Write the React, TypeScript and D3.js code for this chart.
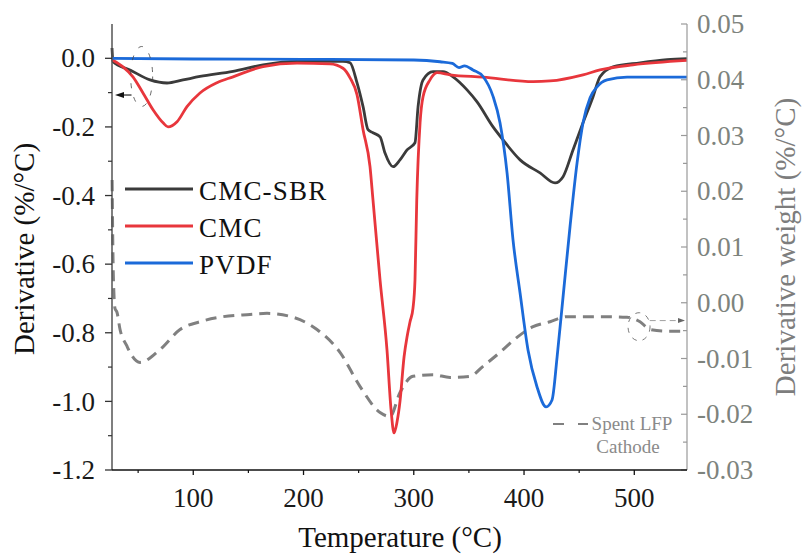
import * as d3 from "d3";

// Temperature (°C) / derivative pairs
const cmcSbr: [number, number][] = [
  [26.3, 0.03], [27.2, -0.01], [42.6, -0.034], [60.8, -0.063], [76.2, -0.072], [90.7, -0.063],
  [106.1, -0.053], [136.1, -0.038], [163.3, -0.019], [194.1, -0.009], [235.8, -0.009],
  [242.2, -0.013], [248.5, -0.071], [254.0, -0.141], [258.5, -0.208], [263.0, -0.217],
  [269.4, -0.229], [273.9, -0.276], [281.2, -0.316], [287.5, -0.296], [293.9, -0.267],
  [301.1, -0.246], [303.9, -0.141], [308.4, -0.063], [317.5, -0.039], [326.5, -0.039],
  [335.6, -0.054], [348.3, -0.092], [357.4, -0.127], [371.9, -0.2], [381.0, -0.238],
  [396.4, -0.296], [414.5, -0.334], [428.1, -0.363], [435.4, -0.345], [444.4, -0.267],
  [453.5, -0.188], [462.6, -0.112], [468.9, -0.054], [480.7, -0.025], [505.2, -0.013],
  [529.7, -0.004], [547.8, -0.001],
];

const cmc: [number, number][] = [
  [26.3, -0.004], [36.3, -0.025], [45.3, -0.054], [54.4, -0.101], [63.5, -0.15], [72.6, -0.188],
  [77.1, -0.2], [85.3, -0.185], [94.3, -0.141], [106.1, -0.101], [121.5, -0.071], [136.1, -0.054],
  [163.3, -0.024], [194.1, -0.014], [224.0, -0.016], [235.8, -0.029], [242.2, -0.057],
  [248.5, -0.106], [254.0, -0.208], [260.3, -0.316], [263.0, -0.413], [269.4, -0.646],
  [275.7, -0.85], [279.4, -1.025], [282.1, -1.092], [284.8, -1.06], [287.5, -1.0],
  [291.2, -0.87], [294.0, -0.81], [296.6, -0.768], [299.3, -0.728], [301.1, -0.646],
  [302.7, -0.413], [305.7, -0.188], [308.4, -0.112], [314.7, -0.063], [321.1, -0.042],
  [332.9, -0.048], [362.8, -0.055], [408.2, -0.068], [423.6, -0.066], [453.5, -0.048],
  [468.9, -0.034], [498.8, -0.019], [547.8, -0.006],
];

const pvdf: [number, number][] = [
  [26.3, 0.0], [100, -0.002], [200, -0.003], [300, -0.005], [323.8, -0.01], [335, -0.015],
  [341, -0.027], [346, -0.022], [353.7, -0.034], [362.8, -0.053], [371.9, -0.111],
  [378.2, -0.188], [384.6, -0.334], [390.0, -0.529], [396.4, -0.684], [403.6, -0.85],
  [411.8, -0.958], [420.0, -1.016], [425.4, -0.996], [430.0, -0.87], [435.4, -0.695],
  [441.7, -0.491], [448.1, -0.305], [453.5, -0.188], [459.9, -0.115], [466.2, -0.083],
  [475.3, -0.063], [493.4, -0.055], [547.8, -0.055],
];

// right axis (derivative weight)
const spentLfp: [number, number][] = [
  [26.4, 0.022], [27.5, 0.005], [29, -0.001], [30.8, -0.0017], [33.6, -0.0048], [39.9, -0.0078],
  [42.6, -0.0089], [51.7, -0.0107], [69.8, -0.0084], [88.0, -0.0048], [106.1, -0.0034],
  [127.0, -0.0025], [151.5, -0.0021], [166.9, -0.0019], [190.5, -0.0026], [212.2, -0.0048],
  [233.1, -0.0089], [251.2, -0.015], [269.4, -0.0197], [278.5, -0.0204], [287.5, -0.0161],
  [299.3, -0.0132], [317.5, -0.0129], [332.9, -0.0134], [351.0, -0.0132], [362.8, -0.0114],
  [378.2, -0.0089], [393.6, -0.0062], [408.2, -0.0043], [423.6, -0.0034], [439.0, -0.0025],
  [457.1, -0.0025], [475.3, -0.0025], [493.4, -0.0026], [505.2, -0.0034], [514.3, -0.0048],
  [529.7, -0.0051], [547.8, -0.0051],
];

const xTicks = [100, 200, 300, 400, 500];
const xMinor = [50, 150, 250, 350, 450];
const leftTicks = [0, -0.2, -0.4, -0.6, -0.8, -1.0, -1.2];
const leftMinor = [-0.1, -0.3, -0.5, -0.7, -0.9, -1.1];
const rightTicks = [0.05, 0.04, 0.03, 0.02, 0.01, 0.0, -0.01, -0.02, -0.03];
const rightMinor = [0.045, 0.035, 0.025, 0.015, 0.005, -0.005, -0.015, -0.025];

const series = [
  { name: "CMC-SBR", data: cmcSbr, color: "#3b3b3b" },
  { name: "CMC", data: cmc, color: "#e8363c" },
  { name: "PVDF", data: pvdf, color: "#1b6ad9" },
];

const FONT = "Liberation Serif";

export default function App() {
  const x = d3.scaleLinear().domain([26.3, 547.8]).range([112, 687]);
  const yL = d3.scaleLinear().domain([-1.2, 0.1]).range([470, 24]);
  const yR = d3.scaleLinear().domain([-0.03, 0.05]).range([470, 24]);

  const lineL = d3
    .line<[number, number]>()
    .x((d) => x(d[0]))
    .y((d) => yL(d[1]))
    .curve(d3.curveMonotoneX);
  const lineR = d3
    .line<[number, number]>()
    .x((d) => x(d[0]))
    .y((d) => yR(d[1]))
    .curve(d3.curveMonotoneX);

  const x0 = x.range()[0];
  const x1 = x.range()[1];
  const yb = yL.range()[0];
  const yt = yL.range()[1];
  const fmt1 = d3.format(".1f");
  const fmt2 = d3.format(".2f");

  return (
    <div style={{ position: "fixed", left: 0, top: 0 }}>
      <svg width={803} height={556} style={{ display: "block" }}>
        <rect width={803} height={556} fill="#fff" />

        {/* spent LFP dashed curve */}
        <path d={lineR(spentLfp) ?? ""} fill="none" stroke="#808080" strokeWidth={3} strokeDasharray="11 7" />

        {series.map((s) => (
          <path key={s.name} d={lineL(s.data) ?? ""} fill="none" stroke={s.color} strokeWidth={2.8} strokeLinejoin="round" />
        ))}

        {/* little annotation marks */}
        <ellipse cx={x(53.2)} cy={yL(-0.053)} rx={11} ry={30} fill="none" stroke="#444" strokeWidth={0.8} strokeDasharray="5 9" />
        <line x1={x(44)} x2={x(33)} y1={yL(-0.107)} y2={yL(-0.107)} stroke="#222" strokeWidth={1.2} />
        <path d={`M${x(29)},${yL(-0.107)} l9,-3 l0,6 z`} fill="#111" />
        <ellipse cx={x(504.3)} cy={yR(-0.0043)} rx={11} ry={14} fill="none" stroke="#555" strokeWidth={0.8} strokeDasharray="5 6" />
        <line x1={x(514)} x2={x(545)} y1={yR(-0.0032)} y2={yR(-0.0032)} stroke="#888" strokeWidth={0.8} strokeDasharray="6 4" />
        <path d={`M${x(546)},${yR(-0.0032)} l-7,-2.5 l0,5 z`} fill="#666" />

        <g fontFamily={FONT}>
          {/* left axis */}
          <line x1={x0} x2={x0} y1={yt} y2={yb} stroke="#555" strokeWidth={1.5} />
          {leftTicks.map((t) => (
            <g key={t}>
              <line x1={x0 - 7} x2={x0} y1={yL(t)} y2={yL(t)} stroke="#333" strokeWidth={1.3} />
              <text x={95} y={yL(t)} dy="0.34em" textAnchor="end" fontSize={27} fontFamily={FONT} fill="#1a1a1a">
                {fmt1(t).replace("−", "-")}
              </text>
            </g>
          ))}
          {leftMinor.map((t) => (
            <line key={t} x1={x0 - 4} x2={x0} y1={yL(t)} y2={yL(t)} stroke="#333" strokeWidth={1.2} />
          ))}

          {/* right axis */}
          <line x1={x1} x2={x1} y1={yt} y2={yb} stroke="#999" strokeWidth={1.2} />
          {rightTicks.map((t) => (
            <g key={t}>
              <line x1={x1 - 6} x2={x1} y1={yR(t)} y2={yR(t)} stroke="#999" strokeWidth={1.2} />
              <text x={697} y={yR(t)} dy="0.34em" textAnchor="start" fontSize={27} fontFamily={FONT} fill="#7d837d">
                {fmt2(t).replace("−", "-")}
              </text>
            </g>
          ))}
          {rightMinor.map((t) => (
            <line key={t} x1={x1 - 4} x2={x1} y1={yR(t)} y2={yR(t)} stroke="#999" strokeWidth={1.2} />
          ))}

          {/* bottom axis */}
          <line x1={x0} x2={x1} y1={yb} y2={yb} stroke="#111" strokeWidth={1.5} />
          {xTicks.map((t) => (
            <g key={t}>
              <line x1={x(t)} x2={x(t)} y1={yb} y2={yb + 5} stroke="#111" strokeWidth={1.3} />
              <text x={x(t)} y={507} textAnchor="middle" fontSize={27} fontFamily={FONT} fill="#1a1a1a">
                {t}
              </text>
            </g>
          ))}
          {xMinor.map((t) => (
            <line key={t} x1={x(t)} x2={x(t)} y1={yb} y2={yb + 3} stroke="#111" strokeWidth={1.2} />
          ))}

          {/* axis titles */}
          <text x={400} y={547} textAnchor="middle" fontSize={29} fontFamily={FONT} fill="#111">
            Temperature (°C)
          </text>
          <text transform={`translate(34,${(yt + yb) / 2 + 2}) rotate(-90)`} textAnchor="middle" fontSize={29} fontFamily={FONT} fill="#111">
            Derivative (%/°C)
          </text>
          <text transform={`translate(795,${(yt + yb) / 2}) rotate(-90)`} textAnchor="middle" fontSize={29} fontFamily={FONT} fill="#7d7d7d">
            Derivative weight (%/°C)
          </text>

          {/* legend */}
          {series.map((s, i) => (
            <g key={s.name} transform={`translate(125,${189 + i * 37})`}>
              <line x1={0} x2={68} y1={0} y2={0} stroke={s.color} strokeWidth={3.2} />
              <text x={74} y={10.5} fontSize={27} fontFamily={FONT} letterSpacing={1.2} fill="#111">
                {s.name}
              </text>
            </g>
          ))}

          {/* spent LFP label */}
          <line x1={553} x2={588} y1={424} y2={424} stroke="#808080" strokeWidth={2} strokeDasharray="11 14" />
          <text x={632} y={430} textAnchor="middle" fontSize={19} fontFamily={FONT} fill="#8a8a8a">
            Spent LFP
          </text>
          <text x={628} y={453} textAnchor="middle" fontSize={19} fontFamily={FONT} fill="#8a8a8a">
            Cathode
          </text>
        </g>
      </svg>
    </div>
  );
}
